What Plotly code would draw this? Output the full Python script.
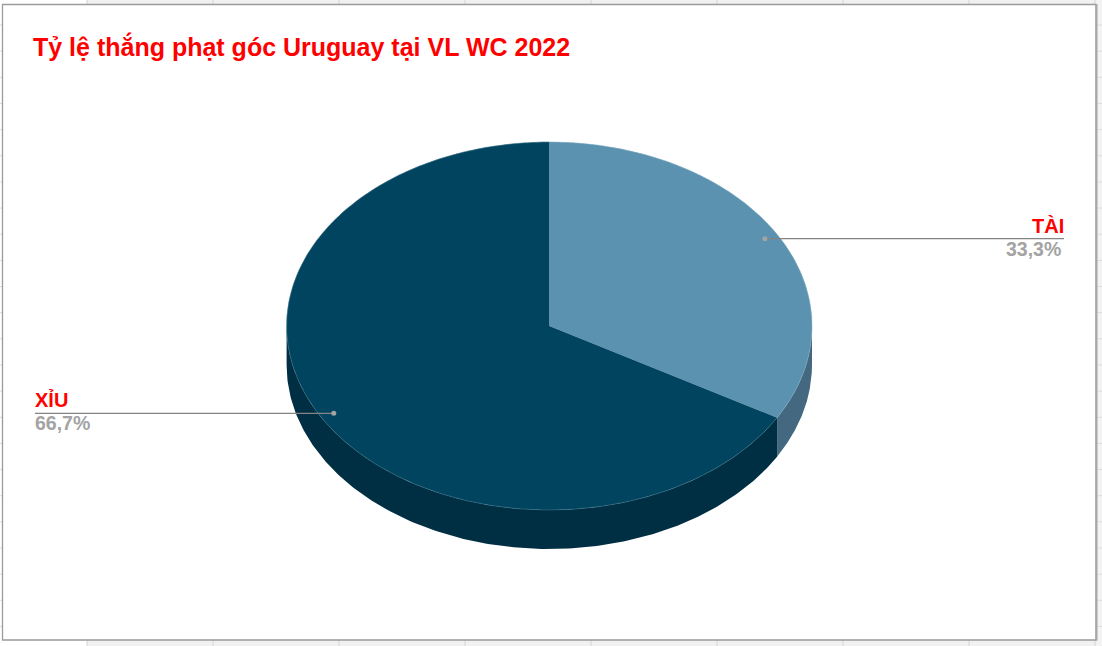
import numpy as np
import plotly.graph_objects as go

# ---- data ----
title_text = "Tỷ lệ thắng phạt góc Uruguay tại VL WC 2022"
categories = ["TÀI", "XỈU"]
values = [33.3, 66.7]

# ---- colours / layout ----
top_colors = ["#5a92af", "#00445f"]
side_colors = ["#43687f", "#002f44"]
edge_colors = ["#7fa9c0", "#3f7389"]
CX, CY, RX, RY, DEPTH = 549.3, 326.0, 262.7, 184.0, 39.0
LEADER_K = 0.948
label_side = {"TÀI": 1064, "XỈU": 35}
COLS = [87 + 126 * i for i in range(9)]
ROWS = [25 + 26.15 * i for i in range(24)]


def pt(theta, k=1.0, dz=0.0):
    t = np.radians(theta)
    return CX + k * RX * np.sin(t), CY - k * RY * np.cos(t) + dz


fig = go.Figure()
total = sum(values)
angles = np.cumsum([0] + [v / total * 360 for v in values])

# side walls (only the part of each slice on the front half of the ellipse)
for i in (1, 0):
    a0, a1 = max(angles[i], 90), min(angles[i + 1], 270)
    if a1 <= a0:
        continue
    th = np.linspace(a0, a1, 200)
    xt, yt = pt(th)
    xb, yb = pt(th[::-1], dz=DEPTH)
    fig.add_trace(go.Scatter(x=np.r_[xt, xb], y=np.r_[yt, yb], fill="toself", mode="lines",
                             line=dict(width=0, color=side_colors[i]), fillcolor=side_colors[i],
                             hoverinfo="skip", showlegend=False))

# top faces
for i, cat in enumerate(categories):
    th = np.linspace(angles[i], angles[i + 1], 400)
    xt, yt = pt(th)
    fig.add_trace(go.Scatter(x=np.r_[CX, xt, CX], y=np.r_[CY, yt, CY], fill="toself", mode="none",
                             fillcolor=top_colors[i], name=cat, hoverinfo="skip", showlegend=False))
    fig.add_trace(go.Scatter(x=xt, y=yt, mode="lines", line=dict(width=0.6, color=edge_colors[i]),
                             hoverinfo="skip", showlegend=False))

# leader lines, dots and labels
for i, cat in enumerate(categories):
    mid = (angles[i] + angles[i + 1]) / 2
    x0, y0 = pt(mid, k=LEADER_K)
    xe = label_side[cat]
    fig.add_trace(go.Scatter(x=[x0, xe], y=[y0, y0], mode="lines", line=dict(width=1.4, color="#848484"),
                             hoverinfo="skip", showlegend=False))
    fig.add_trace(go.Scatter(x=[x0], y=[y0], mode="markers", marker=dict(size=5, color="#a3a3a3"),
                             hoverinfo="skip", showlegend=False))
    anchor = "right" if xe > x0 else "left"
    fig.add_annotation(x=xe, y=y0, text=f"<b>{cat}</b>", showarrow=False, xanchor=anchor, yanchor="bottom",
                       xshift=2 if anchor == "right" else -2, yshift=0,
                       font=dict(family="Liberation Sans", size=20, color="#ff0000"))
    pct = f"{values[i]:.1f}%".replace(".", ",")
    fig.add_annotation(x=xe, y=y0, text=f"<b>{pct}</b>", showarrow=False, xanchor=anchor, yanchor="top",
                       xshift=-1 if anchor == "right" else -2, yshift=3,
                       font=dict(family="Liberation Sans", size=19.5, color="#a3a3a3"))

fig.add_annotation(x=31, y=46, text=f"<b>{title_text}</b>", showarrow=False, xanchor="left", yanchor="middle",
                   font=dict(family="Liberation Sans", size=25, color="#ff0000"))

# spreadsheet behind the chart and chart frame
shapes = [
    dict(type="rect", x0=87, x1=1102, y0=0, y1=5, fillcolor="#f1f1f1", line_width=0, layer="below"),
    dict(type="rect", x0=87, x1=1102, y0=640, y1=646, fillcolor="#f1f1f1", line_width=0, layer="below"),
    dict(type="rect", x0=1096, x1=1102, y0=0, y1=646, fillcolor="#f3f3f3", line_width=0, layer="below"),
]
for c in COLS:
    shapes.append(dict(type="line", x0=c, x1=c, y0=0, y1=646, line=dict(color="#d4d4d4", width=1), layer="below"))
for r in ROWS:
    shapes.append(dict(type="line", x0=0, x1=2, y0=r, y1=r, line=dict(color="#dcdcdc", width=1), layer="below"))
    shapes.append(dict(type="line", x0=1096, x1=1102, y0=r, y1=r, line=dict(color="#dcdcdc", width=1), layer="below"))
shapes.append(dict(type="rect", x0=2.5, x1=1096, y0=4.5, y1=640, fillcolor="#ffffff",
                   line=dict(color="#9b9b9b", width=1.3), layer="below"))
shapes.append(dict(type="line", x0=1096.5, x1=1096.5, y0=4, y1=640.5, line=dict(color="#a8a8a8", width=2), layer="below"))

fig.update_layout(
    width=1102, height=646, margin=dict(l=0, r=0, t=0, b=0),
    paper_bgcolor="#ffffff", plot_bgcolor="#ffffff", showlegend=False, shapes=shapes,
    xaxis=dict(range=[0, 1102], visible=False, fixedrange=True),
    yaxis=dict(range=[646, 0], visible=False, fixedrange=True),
)
fig.write_html("out.html", config={"displayModeBar": False},
               post_script="document.body.style.margin='0';document.body.style.overflow='hidden';")
